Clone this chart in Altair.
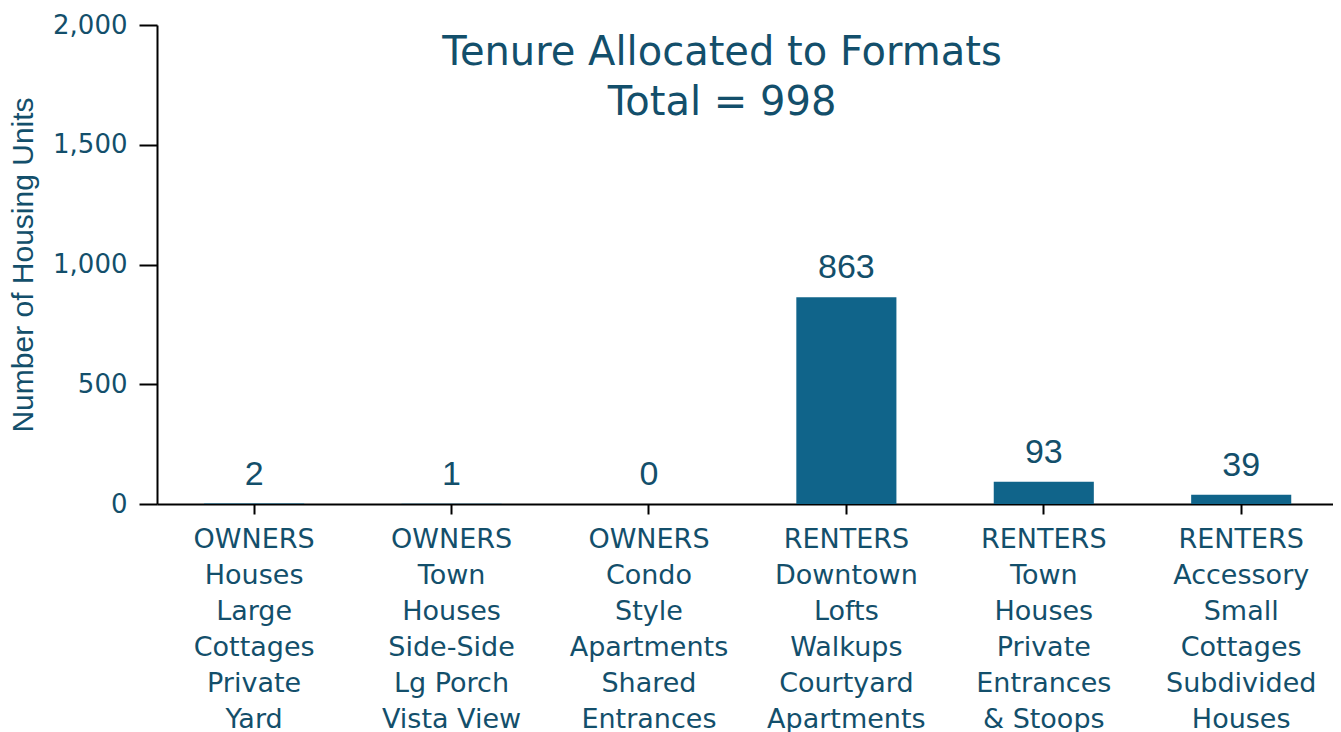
import altair as alt
import pandas as pd

categories = [
    "OWNERS|Houses|Large|Cottages|Private|Yard",
    "OWNERS|Town|Houses|Side-Side|Lg Porch|Vista View",
    "OWNERS|Condo|Style|Apartments|Shared|Entrances",
    "RENTERS|Downtown|Lofts|Walkups|Courtyard|Apartments",
    "RENTERS|Town|Houses|Private|Entrances|& Stoops",
    "RENTERS|Accessory|Small|Cottages|Subdivided|Houses",
]
values = [2, 1, 0, 863, 93, 39]
title_lines = ["Tenure Allocated to Formats", "Total = 998"]

df = pd.DataFrame({"cat": categories, "val": values})

TEXT = "#134f6b"
BAR = "#10648a"
FONT = "DejaVu Sans"
SANS = "Liberation Sans"

x = alt.X("cat:N", sort=categories, title=None,
          scale=alt.Scale(paddingInner=0.493, paddingOuter=0.225, align=0.53),
          axis=alt.Axis(labelExpr="split(datum.label, '|')", labelAngle=0,
                        labelFont=FONT, labelFontSize=27, labelColor=TEXT,
                        labelLineHeight=36, labelPadding=12, tickSize=10,
                        tickColor="black", tickWidth=2, domainColor="black",
                        domainWidth=2, labelBaseline="top", grid=False))
y = alt.Y("val:Q", title="Number of Housing Units",
          scale=alt.Scale(domain=[0, 2000]),
          axis=alt.Axis(values=[0, 500, 1000, 1500, 2000], format=",d",
                        grid=False, labelFont=FONT, labelFontSize=26,
                        labelColor=TEXT, tickSize=18, tickColor="black",
                        tickWidth=2, domainColor="black", domainWidth=2,
                        labelPadding=12, titleFont=SANS, titleFontSize=30,
                        titleColor=TEXT, titleFontWeight="normal",
                        titlePadding=14))

base = alt.Chart(df)
bars = base.mark_bar(color=BAR).encode(x=x, y=y)
labels = base.mark_text(baseline="alphabetic", dy=-19, font=SANS,
                        fontSize=34, color=TEXT).encode(
    x=x, y=y, text="val:Q")

tdf = pd.DataFrame({"t": [title_lines], "k": [0]})
title = alt.Chart(tdf).mark_text(font=FONT, fontSize=40, color=TEXT,
                                 align="center", baseline="middle",
                                 lineHeight=50).encode(
    x=alt.value(565), y=alt.value(28), text="t")

chart = alt.layer(bars, labels, title).properties(
    width=1176, height=479,
    autosize=alt.AutoSizeParams(type="none"),
    padding={"left": 149, "top": 17, "right": 0, "bottom": 260},
).configure(background="white", view=alt.ViewConfig(stroke=None))

chart.save("out.html", embed_options={"renderer": "svg", "actions": False})
